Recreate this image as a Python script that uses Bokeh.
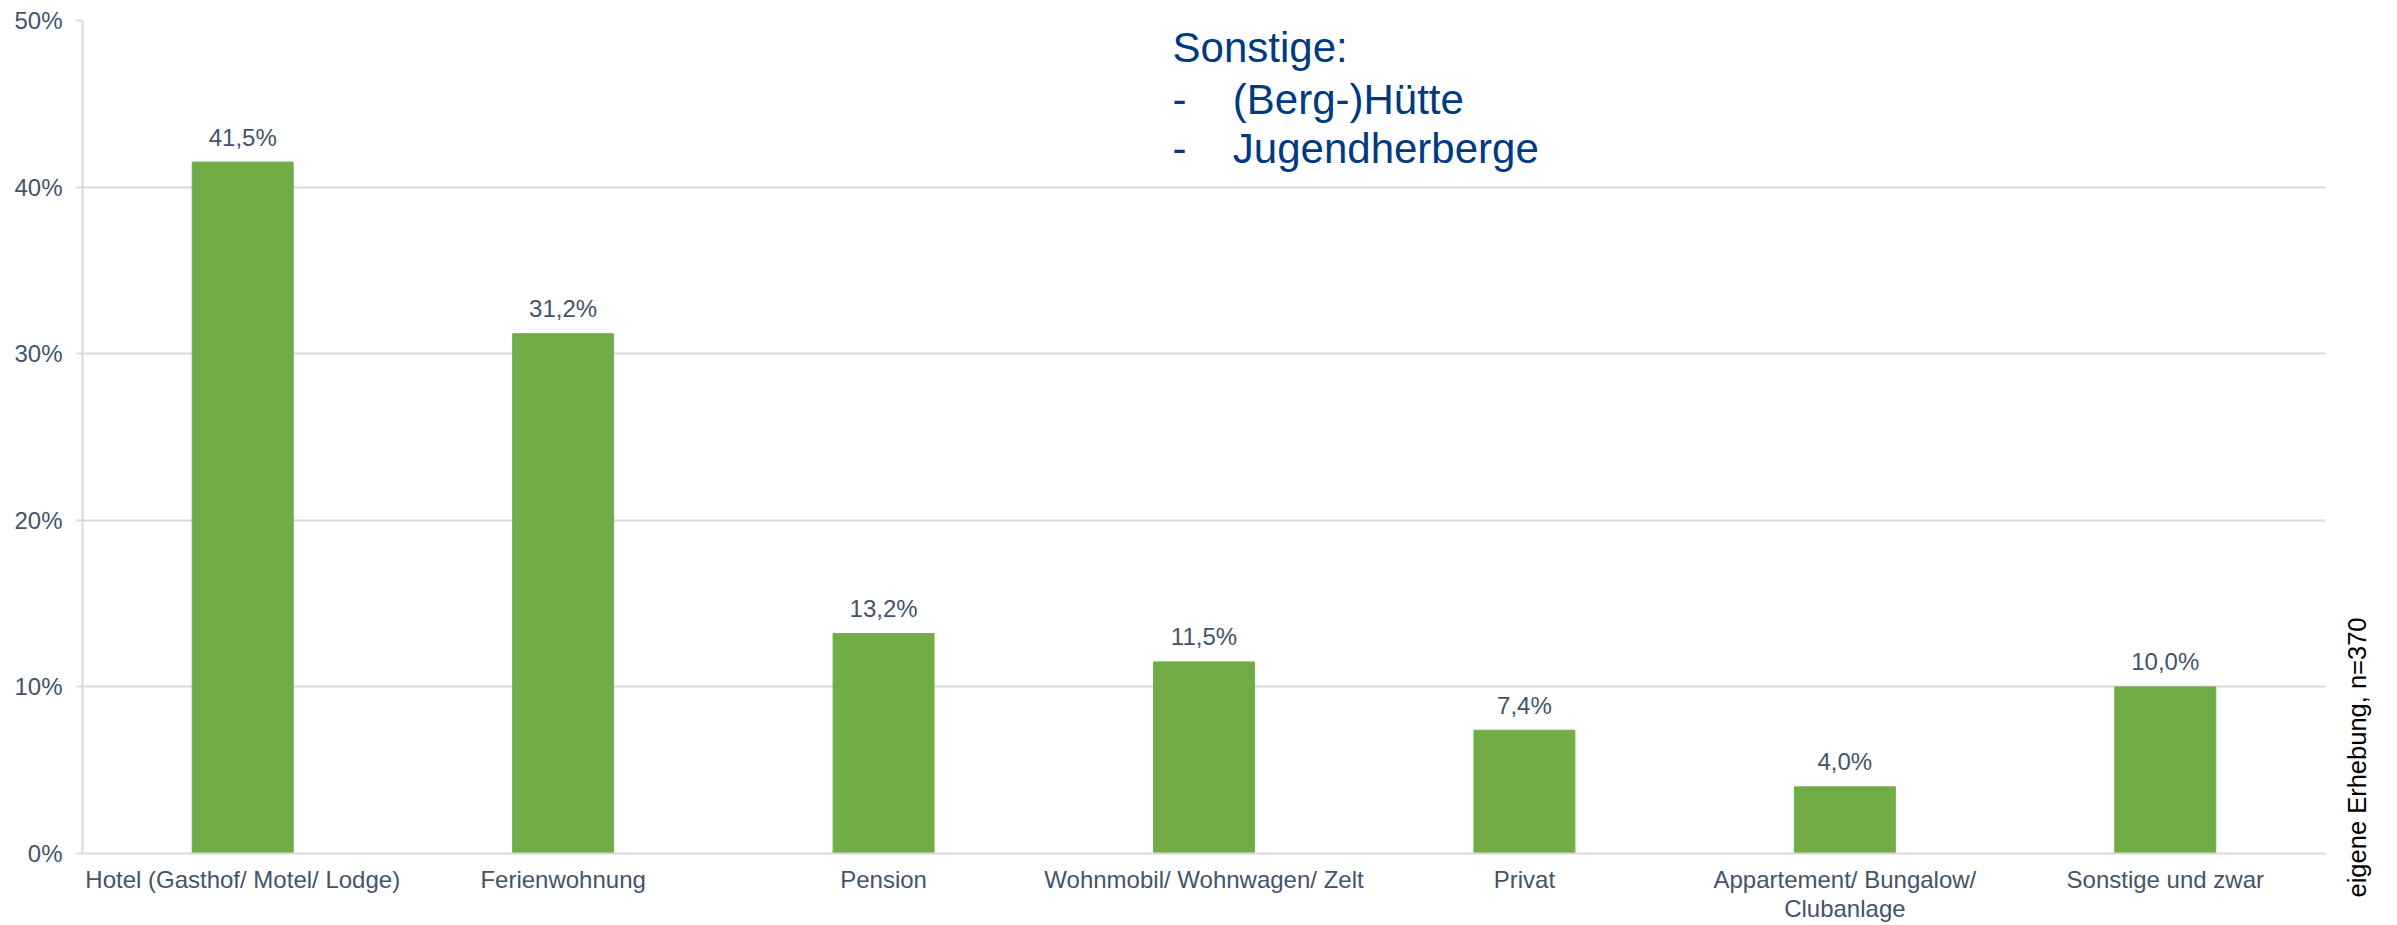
import numpy as np
from bokeh.plotting import figure
from bokeh.layouts import row
from bokeh.models import Range1d, FixedTicker, PrintfTickFormatter, Label, ColumnDataSource
from bokeh.core.properties import value
from bokeh.embed import file_html
from bokeh.resources import INLINE

categories = [
    "Hotel (Gasthof/ Motel/ Lodge)",
    "Ferienwohnung",
    "Pension",
    "Wohnmobil/ Wohnwagen/ Zelt",
    "Privat",
    "Appartement/ Bungalow/\nClubanlage",
    "Sonstige und zwar",
]
values = [41.5, 31.2, 13.2, 11.5, 7.4, 4.0, 10.0]
y_ticks = [0, 10, 20, 30, 40, 50]
note_title = "Sonstige:"
note_items = ["(Berg-)Hütte", "Jugendherberge"]
source_note = "eigene Erhebung, n=370"

FONT = "Liberation Sans"
TXT = "#44546A"
GRID = "#D9D9D9"
GREEN = "#70AD47"
BLUE = "#003A80"

xs = np.arange(len(categories)) + 0.5
labels = [f"{v:.1f}%".replace(".", ",") for v in values]
src = ColumnDataSource(dict(x=xs, top=values, lab=labels))

p = figure(width=2327, height=925, output_backend="svg", toolbar_location=None,
           x_range=Range1d(0, len(categories)), y_range=Range1d(0, 50),
           min_border_left=82, min_border_right=2, min_border_top=20, min_border_bottom=70)
p.outline_line_color = None
p.background_fill_color = "white"
p.border_fill_color = "white"

p.vbar(x="x", top="top", width=0.315, color=GREEN, source=src)
p.text(x="x", y="top", text="lab", source=src, text_align="center", text_baseline="middle",
       y_offset=-25, text_font=value(FONT), text_font_size="24px", text_color=TXT)

# y axis
yax = p.yaxis[0]
yax.ticker = FixedTicker(ticks=y_ticks)
yax.formatter = PrintfTickFormatter(format="%d%%")
yax.major_label_text_font = FONT
yax.major_label_text_font_size = "24px"
yax.major_label_text_color = TXT
yax.axis_line_color = GRID
yax.axis_line_width = 2
yax.major_tick_line_color = GRID
yax.major_tick_line_width = 2
yax.major_tick_out = 6
yax.major_tick_in = 0
yax.minor_tick_line_color = None
yax.major_label_standoff = 14

# x axis
xax = p.xaxis[0]
xax.ticker = FixedTicker(ticks=list(xs))
xax.major_label_overrides = {float(x): c for x, c in zip(xs, categories)}
xax.major_label_text_font = FONT
xax.major_label_text_font_size = "24px"
xax.major_label_text_color = TXT
xax.major_label_text_line_height = 1.1
xax.axis_line_color = GRID
xax.axis_line_width = 2
xax.major_tick_line_color = None
xax.major_tick_out = 0
xax.major_tick_in = 0
xax.minor_tick_line_color = None
xax.major_label_standoff = 12

p.xgrid.grid_line_color = None
p.ygrid.ticker = FixedTicker(ticks=y_ticks)
p.ygrid.grid_line_color = GRID
p.ygrid.grid_line_width = 2

# annotation block
dash_x = 3.402
item_x = 3.59
note_ys = [45.25, 42.3]
p.add_layout(Label(x=dash_x, y=48.4, text=note_title, text_font=FONT, text_font_size="42px",
                   text_color=BLUE, text_baseline="middle"))
for it, yy in zip(note_items, note_ys):
    p.add_layout(Label(x=dash_x, y=yy, text="-", text_font=FONT, text_font_size="42px",
                       text_color=BLUE, text_baseline="middle"))
    p.add_layout(Label(x=item_x, y=yy, text=it, text_font=FONT, text_font_size="42px",
                       text_color=BLUE, text_baseline="middle"))

# side strip with rotated source note
side = figure(width=70, height=925, output_backend="svg", toolbar_location=None,
              x_range=Range1d(0, 70), y_range=Range1d(0, 925),
              min_border=0, x_axis_type=None, y_axis_type=None)
side.frame_align = False
side.outline_line_color = None
side.xgrid.grid_line_color = None
side.ygrid.grid_line_color = None
side.text(x=[29], y=[28], text=[source_note], angle=np.pi / 2, text_align="left",
          text_baseline="middle", text_font=value(FONT), text_font_size="25.5px",
          text_color="black")

layout = row(p, side, spacing=0)
open("out.html", "w").write(file_html(layout, INLINE))
